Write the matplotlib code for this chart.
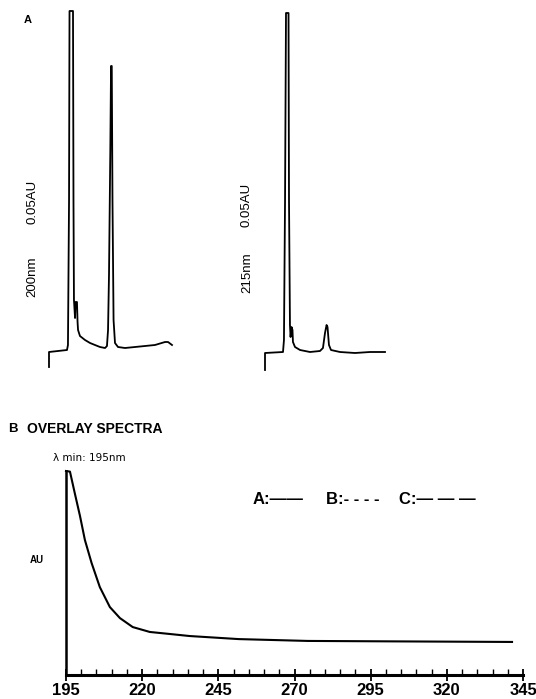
import matplotlib
matplotlib.use("Agg")
import matplotlib.pyplot as plt
from matplotlib import font_manager
from matplotlib.ticker import MultipleLocator

# ---------------- data ----------------
# Chromatogram at 200 nm (time in min, absorbance in AU)
time_200 = [0, 0, 1.50, 1.58, 1.67, 1.71, 2.00, 2.04, 2.08, 2.17, 2.21, 2.33, 2.38, 2.42, 2.58,
            3.00, 3.42, 3.83, 4.25, 4.67, 4.83, 4.92, 5.00, 5.11, 5.17, 5.23, 5.29, 5.38, 5.50,
            5.75, 6.33, 7.17, 8.00, 8.83, 9.67, 9.92, 10.25]
abs_200 = [-0.015, 0.000, 0.002, 0.007, 0.152, 0.341, 0.341, 0.152, 0.052, 0.034, 0.050, 0.050,
           0.030, 0.022, 0.016, 0.012, 0.009, 0.007, 0.005, 0.004, 0.006, 0.022, 0.077, 0.202,
           0.286, 0.286, 0.152, 0.032, 0.009, 0.005, 0.004, 0.005, 0.006, 0.007, 0.010, 0.010,
           0.007]

# Chromatogram at 215 nm
time_215 = [0, 0, 1.50, 1.58, 1.67, 1.75, 1.96, 2.00, 2.08, 2.13, 2.21, 2.29, 2.33, 2.50, 2.92,
            3.75, 4.58, 4.83, 5.00, 5.13, 5.21, 5.33, 5.50, 6.25, 7.50, 8.75, 10.00]
abs_215 = [-0.017, 0.000, 0.001, 0.013, 0.153, 0.340, 0.340, 0.153, 0.028, 0.016, 0.026, 0.023,
           0.011, 0.006, 0.003, 0.001, 0.002, 0.005, 0.020, 0.028, 0.026, 0.008, 0.003, 0.001,
           0.000, 0.001, 0.001]

# Overlay spectrum (wavelength nm, relative AU)
wavelength = [195, 196.3, 197.9, 199.6, 201.2, 203.4, 206.1, 209.4, 212.7, 216.9, 222.5,
              229.1, 235.6, 251.7, 274.3, 300.0, 341.4]
spectrum_A = [1.0, 0.997, 0.89, 0.779, 0.662, 0.549, 0.431, 0.333, 0.279, 0.235, 0.211,
              0.201, 0.191, 0.176, 0.167, 0.165, 0.162]

x_ticks = [195, 220, 245, 270, 295, 320, 345]
legend_labels = ["A:\u2014\u2014", "B:- - - -", "C:\u2014 \u2014 \u2014"]

# ---------------- fonts ----------------
def has_font(name):
    try:
        font_manager.findfont(font_manager.FontProperties(family=name), fallback_to_default=False)
        return True
    except Exception:
        return False

narrow = "Liberation Sans Narrow" if has_font("Liberation Sans Narrow") else "Liberation Sans"
plt.rcParams['font.family'] = ['Liberation Sans', 'DejaVu Sans']

W, H = 536, 699
fig = plt.figure(figsize=(W / 100, H / 100), dpi=100)

def rect(x0, y0, x1, y1):
    # pixel box (top-left origin) -> figure fraction rect
    return [x0 / W, 1 - y1 / H, (x1 - x0) / W, (y1 - y0) / H]

def fx(x):
    return x / W

def fy(y):
    return 1 - y / H

# ---------------- chromatogram 1 ----------------
ax1 = fig.add_axes(rect(49, 11, 172, 367))
ax1.plot(time_200, abs_200, color='black', lw=1.3, clip_on=False)
ax1.set_xlim(0, 10.25)
ax1.set_ylim(-0.015, 0.341)
ax1.axis('off')

# ---------------- chromatogram 2 ----------------
ax2 = fig.add_axes(rect(265, 13, 385, 370))
ax2.plot(time_215, abs_215, color='black', lw=1.3, clip_on=False)
ax2.set_xlim(0, 10.0)
ax2.set_ylim(-0.017, 0.340)
ax2.axis('off')

fig.text(fx(28), fy(20), "A", fontsize=8, fontweight='bold', ha='center', va='center')
fig.text(fx(32), fy(202), "0.05AU", rotation=90, fontsize=9.5, ha='center', va='center')
fig.text(fx(32), fy(277), "200nm", rotation=90, fontsize=9.5, ha='center', va='center')
fig.text(fx(247), fy(205), "0.05AU", rotation=90, fontsize=9.5, ha='center', va='center')
fig.text(fx(247), fy(273), "215nm", rotation=90, fontsize=9.5, ha='center', va='center')

# ---------------- spectrum panel ----------------
fig.text(fx(8), fy(429), "B", fontsize=9.5, fontweight='bold', ha='left', va='center')
fig.text(fx(27), fy(429), "OVERLAY SPECTRA", fontsize=10, fontweight='bold', ha='left', va='center',
         family=[narrow, 'DejaVu Sans'])
fig.text(fx(53), fy(458), "\u03bb min: 195nm", fontsize=7.5, ha='left', va='center',
         family=['DejaVu Sans'])
fig.text(fx(30), fy(560), "AU", fontsize=7, fontweight='bold', ha='left', va='center')

axs = fig.add_axes(rect(66, 471, 523, 675))
axs.plot(wavelength, spectrum_A, color='black', lw=1.5, clip_on=False)
axs.set_xlim(195, 345)
axs.set_ylim(0, 1.0)
axs.spines['top'].set_visible(False)
axs.spines['right'].set_visible(False)
axs.spines['left'].set_linewidth(1.8)
axs.spines['bottom'].set_linewidth(2.2)
axs.set_yticks([])
axs.set_xticks(x_ticks)
axs.xaxis.set_minor_locator(MultipleLocator(5))
axs.tick_params(axis='x', which='major', direction='inout', length=9, width=1.3, pad=1,
                labelsize=12)
axs.tick_params(axis='x', which='minor', direction='in', length=4, width=1.0)
for lab in axs.get_xticklabels():
    lab.set_fontfamily([narrow, 'DejaVu Sans'])
    lab.set_fontweight('bold')

legend_x = [253, 326, 399]
for lx, lab in zip(legend_x, legend_labels):
    fig.text(fx(lx), fy(500), lab, fontsize=12, fontweight='bold', ha='left', va='center')

fig.savefig("out.png", dpi=100)
